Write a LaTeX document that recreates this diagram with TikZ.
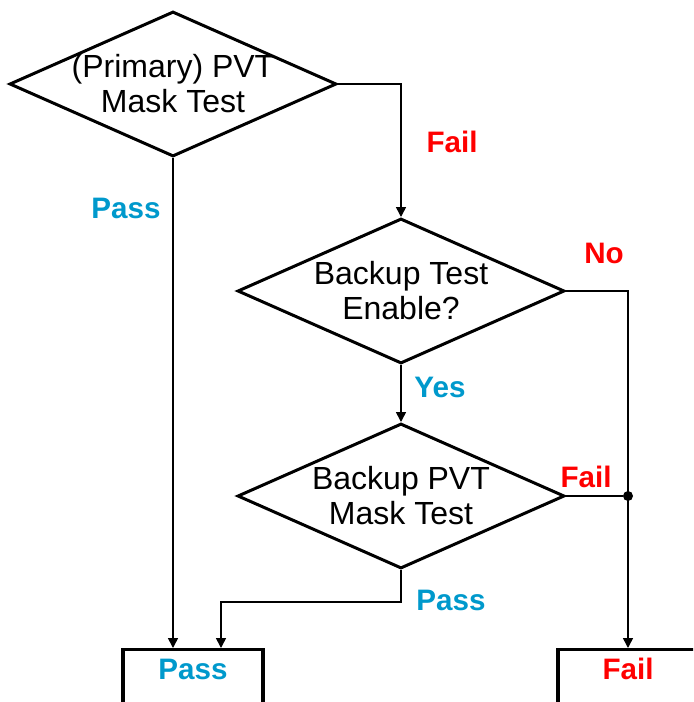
\documentclass[tikz,border=0pt]{standalone}
\usepackage{fontspec}
\setmainfont{Liberation Sans}
\usetikzlibrary{shapes.geometric,arrows.meta}
\definecolor{cPass}{HTML}{0099CC}
\definecolor{cFail}{HTML}{FF0000}
\tikzset{
	dec/.style={draw, diamond, line width=1.5pt, inner sep=0pt, minimum width=163.5pt, minimum height=72.5pt},
	dtext/.style={align=center, font=\fontsize{16}{17.5}\selectfont, inner sep=0pt},
	endbox/.style={draw, line width=1.6pt, anchor=north, minimum width=70pt, inner xsep=0pt, inner ysep=4.5pt, text height=10.6pt, text depth=40pt, font=\fontsize{14.8}{17}\selectfont\bfseries},
	lbl/.style={font=\fontsize{14.8}{17}\selectfont\bfseries, inner sep=0pt, text height=10.6pt, text depth=0pt},
	pass/.style={lbl, text=cPass},
	fail/.style={lbl, text=cFail},
	wire/.style={line width=0.8pt},
	arr/.style={wire, -{Triangle[length=5pt,width=5pt]}},
	dot/.style={circle, fill, inner sep=0pt, minimum size=5pt},
}
\begin{document}
\begin{tikzpicture}[x=0.5pt, y=-0.5pt]
		\useasboundingbox (0,0) rectangle (693,702);
		\clip (0,0) rectangle (693,702);
		% decisions
		\node[dec, label={[dtext]center:{(Primary) PVT\\Mask Test}}] (prim) at (173,84) {};
		\node[dec, label={[dtext]center:{Backup Test\\Enable?}}] (bak) at (401,291) {};
		\node[dec, label={[dtext]center:{Backup PVT\\Mask Test}}] (bpvt) at (401,496) {};
		% results (cut off at the page edge)
		\node[endbox, text=cPass] (passbox) at (193,648) {Pass};
		\node[endbox, text=cFail] (failbox) at (628,648) {Fail};
		% helper points
		\node[dot] (jn) at (failbox.north |- bpvt.east) {};
		\coordinate (bend) at (401,602);
		\coordinate (pin) at (221,648);
		% connectors
		\draw[arr] (prim.east) -| (bak.north);
		\draw[arr] (prim.south) -- (prim.south |- passbox.north);
		\draw[arr] (bak.south) -- (bpvt.north);
		\draw[arr] (bak.east) -| (failbox.north);
		\draw[wire] (bpvt.east) -- (jn);
		\draw[arr] (bpvt.south) -- (bend) -| (pin);
		% branch labels
		\node[fail] (l1) at (452,142) {Fail};
		\node[pass] (l2) at (126,208) {Pass};
		\node[fail] (l3) at (604,253) {No};
		\node[pass] (l4) at (440,387) {Yes};
		\node[fail] (l5) at (586,477) {Fail};
		\node[pass] (l6) at (451,600) {Pass};
\end{tikzpicture}
\end{document}
